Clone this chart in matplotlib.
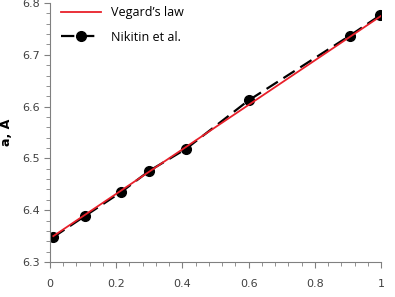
import numpy as np
import matplotlib.pyplot as plt
from matplotlib.ticker import MultipleLocator

# Nikitin et al. data
x_nik = [0.01, 0.106, 0.215, 0.30, 0.41, 0.60, 0.906, 0.997]
a_nik = [6.348, 6.389, 6.435, 6.476, 6.518, 6.612, 6.737, 6.776]

# Vegard's law endpoints
x_veg = [0.01, 1.0]
a_veg = [6.350, 6.775]

fig = plt.figure(figsize=(3.95, 2.97), dpi=100)
ax = fig.add_axes([50/395, 35/297, 331/395, 259/297])

ax.plot(x_nik, a_nik, color='black', lw=1.6, ls=(0, (6, 3)), marker='o', ms=7,
        label='Nikitin et al.', zorder=2)
ax.plot(x_veg, a_veg, color='#e8202a', lw=1.3, label="Vegard\u2019s law", zorder=3)

ax.set_xlim(0, 1)
ax.set_ylim(6.3, 6.8)
ax.xaxis.set_minor_locator(MultipleLocator(0.04))
ax.yaxis.set_major_locator(MultipleLocator(0.1))
ax.yaxis.set_minor_locator(MultipleLocator(0.02))
ax.set_xticks([0, 0.2, 0.4, 0.6, 0.8, 1.0])
ax.set_xticklabels(['0', '0.2', '0.4', '0.6', '0.8', '1'])

for s in ['top', 'right']:
    ax.spines[s].set_visible(False)
for s in ['left', 'bottom']:
    ax.spines[s].set_color('#808080')
ax.tick_params(which='both', direction='out', colors='#808080', labelcolor='#404040',
               labelsize=8)
ax.tick_params(which='major', length=4)
ax.tick_params(which='minor', length=3)
ax.tick_params(axis='x', pad=8)

ax.set_ylabel('a, \u00c5', fontsize=9, fontweight='bold', labelpad=6)

h, l = ax.get_legend_handles_labels()
ax.legend(h[::-1], l[::-1], loc='upper left', frameon=False,
          bbox_to_anchor=(0.0, 1.03), handlelength=3.2, labelspacing=0.9,
          prop={'family': 'Open Sans', 'size': 9})

fig.savefig('out.png', dpi=100)
